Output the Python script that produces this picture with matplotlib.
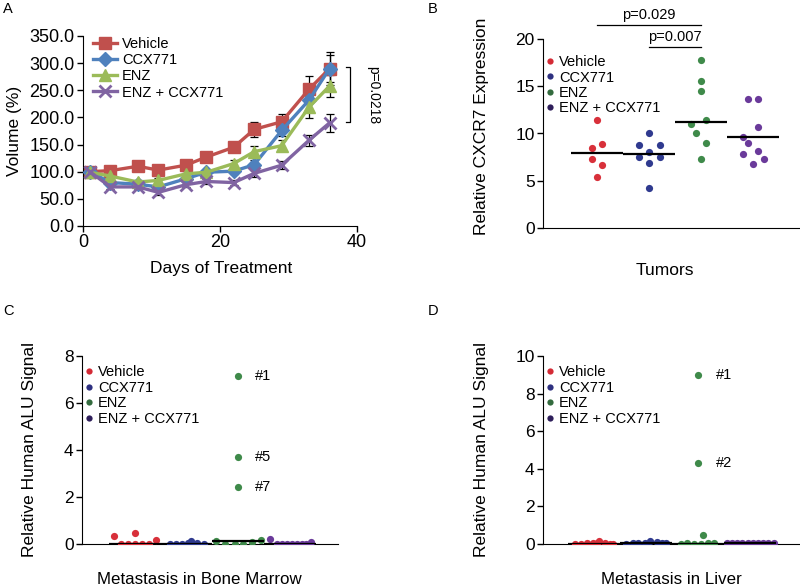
import matplotlib
matplotlib.use('Agg')
import matplotlib.pyplot as plt
from matplotlib.lines import Line2D

plt.rcParams['font.family'] = ['Liberation Sans', 'DejaVu Sans']

W, H = 800, 585

groups = ['Vehicle', 'CCX771', 'ENZ', 'ENZ + CCX771']

# panel A: tumour volume over time
days = [1, 4, 8, 11, 15, 18, 22, 25, 29, 33, 36]
vol_vehicle = [100, 102, 110, 103, 112, 127, 145, 178, 192, 252, 290]
vol_ccx = [100, 80, 77, 72, 87, 99, 101, 113, 176, 232, 290]
vol_enz = [99, 92, 81, 84, 96, 99, 115, 137, 148, 219, 258]
vol_combo = [100, 72, 72, 62, 76, 82, 80, 97, 112, 158, 190]
err_vehicle = [2, 3, 4, 4, 4, 5, 5, 14, 15, 24, 30]
err_ccx = [3, 4, 4, 4, 5, 5, 6, 8, 10, 18, 25]
err_enz = [3, 4, 4, 4, 5, 5, 6, 10, 10, 20, 20]
err_combo = [3, 4, 4, 4, 5, 5, 5, 6, 7, 10, 16]
p_volume = 'p=0.0218'

# panel B: CXCR7 expression in tumors
b_values = [[11.4, 8.5, 8.86, 7.3, 6.67, 5.43],
            [10.0, 8.8, 8.75, 8.07, 7.48, 7.48, 6.9, 4.2],
            [17.74, 15.6, 14.46, 11.0, 11.43, 10.0, 8.96, 7.34],
            [13.7, 13.7, 10.65, 9.63, 8.96, 8.18, 7.8, 7.27, 6.74]]
b_slots = [[0, -1, 1, -1, 1, 0],
           [0, -2, 2, 0, -2, 2, 0, 0],
           [0, 0, 0, -2, 1, -1, 1, 0],
           [-1, 1, 1, -2, -1, 1, -2, 2, 0]]
b_lines = [7.9, 7.8, 11.25, 9.65]

# panel C: ALU signal, bone marrow
c_values = [[0.35, 0.0, 0.0, 0.45, 0.0, 0.0, 0.0, 0.18],
            [0.0, 0.0, 0.0, 0.06, 0.11, 0.03, 0.0, 0.0],
            [7.15, 3.7, 2.42, 0.13, 0.0, 0.0, 0.0, 0.08, 0.17],
            [0.2, 0.02, 0.0, 0.0, 0.0, 0.0, 0.0, 0.02, 0.07]]
c_slots = [[-4.1, -2.7, -1.35, 0, 0, 1.35, 2.7, 4.1],
           [-3.3, -2.1, -0.8, 0.2, 0.8, 2.0, 3.3, 1.4],
           [0, 0, 0, -4.3, -2.5, -0.7, 0.9, 2.6, 4.3],
           [-3.9, -2.6, -1.6, -0.6, 0.3, 1.3, 2.3, 3.2, 4.0]]
c_lines = [0.01, 0.01, 0.12, 0.02]
c_tags = ['#1', '#5', '#7']

# panel D: ALU signal, liver
d_values = [[0.02, 0.02, 0.03, 0.03, 0.18, 0.03, 0.02, 0.02, 0.03],
            [0.02, 0.03, 0.05, 0.06, 0.18, 0.08, 0.03, 0.04],
            [9.0, 4.3, 0.48, 0.0, 0.05, 0.0, 0.0, 0.06, 0.07],
            [0.04, 0.05, 0.03, 0.04, 0.05, 0.03, 0.04, 0.05, 0.06, 0.04]]
d_slots = [[-3.7, -2.6, -1.4, -0.25, 1.0, 2.1, 3.1, 3.7, 0.5],
           [-3.8, -2.6, -1.5, -0.3, 0.8, 2.0, 3.0, 3.8],
           [0, 0, 1.0, -3.4, -2.1, -0.8, 0.5, 1.8, 3.1],
           [-4.5, -3.5, -2.5, -1.5, -0.5, 0.5, 1.5, 2.5, 3.5, 4.5]]
d_lines = [0.02, 0.03, 0.02, 0.04]
d_tags = ['#1', '#2']

line_colors = ['#C0504D', '#4F81BD', '#9BBB59', '#8064A2']
dot_colors = ['#D8303A', '#2F3A8F', '#3F8A4A', '#6A3A9A']
legend_colors = ['#D42A35', '#2E3080', '#336B3E', '#2E1E5A']


def px_axes(fig, left, top, right, bottom):
    return fig.add_axes([left / W, 1 - bottom / H, (right - left) / W, (bottom - top) / H])


def style(ax, size):
    for s in ['top', 'right']:
        ax.spines[s].set_visible(False)
    ax.tick_params(direction='out', length=4, width=1, labelsize=size, pad=2)


def dot_panel(ax, values, slots, lines, ylim, yticks, legend_y):
    for i, (vals, sl) in enumerate(zip(values, slots)):
        xs = [i + 0.1 * s for s in sl]
        ax.scatter(xs, vals, s=27, color=dot_colors[i], zorder=3, linewidths=0)
        ax.plot([i - 0.5, i + 0.5], [lines[i], lines[i]], color='black', lw=1.6, zorder=4,
                solid_capstyle='butt')
    ax.set_ylim(*ylim)
    ax.set_yticks(yticks)
    ax.set_xticks([])
    style(ax, 12.5)
    handles = [Line2D([], [], marker='o', ls='none', ms=4.5, color=c, mec='none') for c in legend_colors]
    ax.legend(handles, groups, loc='upper left', bbox_to_anchor=(0.012, legend_y), frameon=False,
              fontsize=10.5, handlelength=0.6, handletextpad=0.3, labelspacing=0.1,
              borderpad=0, borderaxespad=0)


fig = plt.figure(figsize=(W / 100, H / 100), dpi=100)

# ---- A ----
axA = px_axes(fig, 83, 36, 357, 226)
series = [(vol_vehicle, err_vehicle, 's', 8), (vol_ccx, err_ccx, 'D', 7),
          (vol_enz, err_enz, '^', 8.5), (vol_combo, err_combo, 'x', 8)]
for i, (v, e, m, ms) in enumerate(series):
    axA.plot(days, v, marker=m, ms=ms, color=line_colors[i], lw=2.4, mew=2 if m == 'x' else 1,
             label=groups[i], zorder=2 + i)
for i, (v, e, m, ms) in enumerate(series):
    axA.errorbar(days, v, yerr=e, fmt='none', ecolor='black', elinewidth=0.9, capsize=3,
                 capthick=0.9, zorder=1.5)
axA.set_xlim(0, 40)
axA.set_ylim(0, 350)
axA.set_xticks([0, 20, 40])
axA.set_yticks(range(0, 351, 50))
axA.set_yticklabels([f'{t:.1f}' for t in range(0, 351, 50)])
style(axA, 13)
axA.set_xlabel('Days of Treatment', fontsize=12.5)
axA.set_ylabel('Volume (%)', fontsize=12.5)
axA.xaxis.set_label_coords(0.504, -0.183)
axA.yaxis.set_label_coords(-0.223, 0.5)
axA.legend(loc='upper left', bbox_to_anchor=(0.035, 0.995), frameon=False, fontsize=10.5,
           handlelength=1.7, handletextpad=0.3, labelspacing=0.15, borderpad=0, borderaxespad=0)
axA.plot([38.4, 39, 39, 38.4], [293, 293, 192, 192], color='black', lw=0.9, clip_on=False)
axA.text(42.3, 242, p_volume, rotation=-90, fontsize=10, ha='center', va='center')

# ---- B ----
axB = px_axes(fig, 543, 39, 800, 228)
dot_panel(axB, b_values, b_slots, b_lines, (0, 20), [0, 5, 10, 15, 20], 0.915)
axB.set_xlim(-1.044, 3.9)
axB.plot([0, 2], [21.5, 21.5], color='black', lw=0.9, clip_on=False)
axB.text(1, 21.8, 'p=0.029', ha='center', va='bottom', fontsize=10.5)
axB.plot([1, 2], [19.2, 19.2], color='black', lw=0.9, clip_on=False)
axB.text(1.5, 19.5, 'p=0.007', ha='center', va='bottom', fontsize=10.5)
axB.set_xlabel('Tumors', fontsize=12.5)
axB.set_ylabel('Relative CXCR7 Expression', fontsize=12.5)
axB.xaxis.set_label_coords(0.475, -0.185)
axB.yaxis.set_label_coords(-0.21, 0.54)

# ---- C ----
axC = px_axes(fig, 82, 356, 338, 544)
dot_panel(axC, c_values, c_slots, c_lines, (0, 8), [0, 2, 4, 6, 8], 0.95)
axC.set_xlim(-1.025, 3.93)
for k, tag in enumerate(c_tags):
    axC.text(2.33, c_values[2][k], tag, fontsize=10.5, va='center', ha='left')
axC.set_xlabel('Metastasis in Bone Marrow', fontsize=12.2)
axC.set_ylabel('Relative Human ALU Signal', fontsize=12.5)
axC.xaxis.set_label_coords(0.46, -0.147)
axC.yaxis.set_label_coords(-0.176, 0.505)

# ---- D ----
axD = px_axes(fig, 543, 356, 800, 544)
dot_panel(axD, d_values, d_slots, d_lines, (0, 10), [0, 2, 4, 6, 8, 10], 0.95)
axD.set_xlim(-0.987, 3.96)
for k, tag in enumerate(d_tags):
    axD.text(2.35, d_values[2][k], tag, fontsize=10.5, va='center', ha='left')
axD.set_xlabel('Metastasis in Liver', fontsize=12.2)
axD.set_ylabel('Relative Human ALU Signal', fontsize=12.5)
axD.xaxis.set_label_coords(0.498, -0.147)
axD.yaxis.set_label_coords(-0.21, 0.505)

for lab, x, y in [('A', 3, 2), ('B', 428, 2), ('C', 3, 304), ('D', 428, 304)]:
    fig.text(x / W, 1 - y / H, lab, fontsize=10.5, ha='left', va='top')

fig.savefig('out.png', dpi=100)
